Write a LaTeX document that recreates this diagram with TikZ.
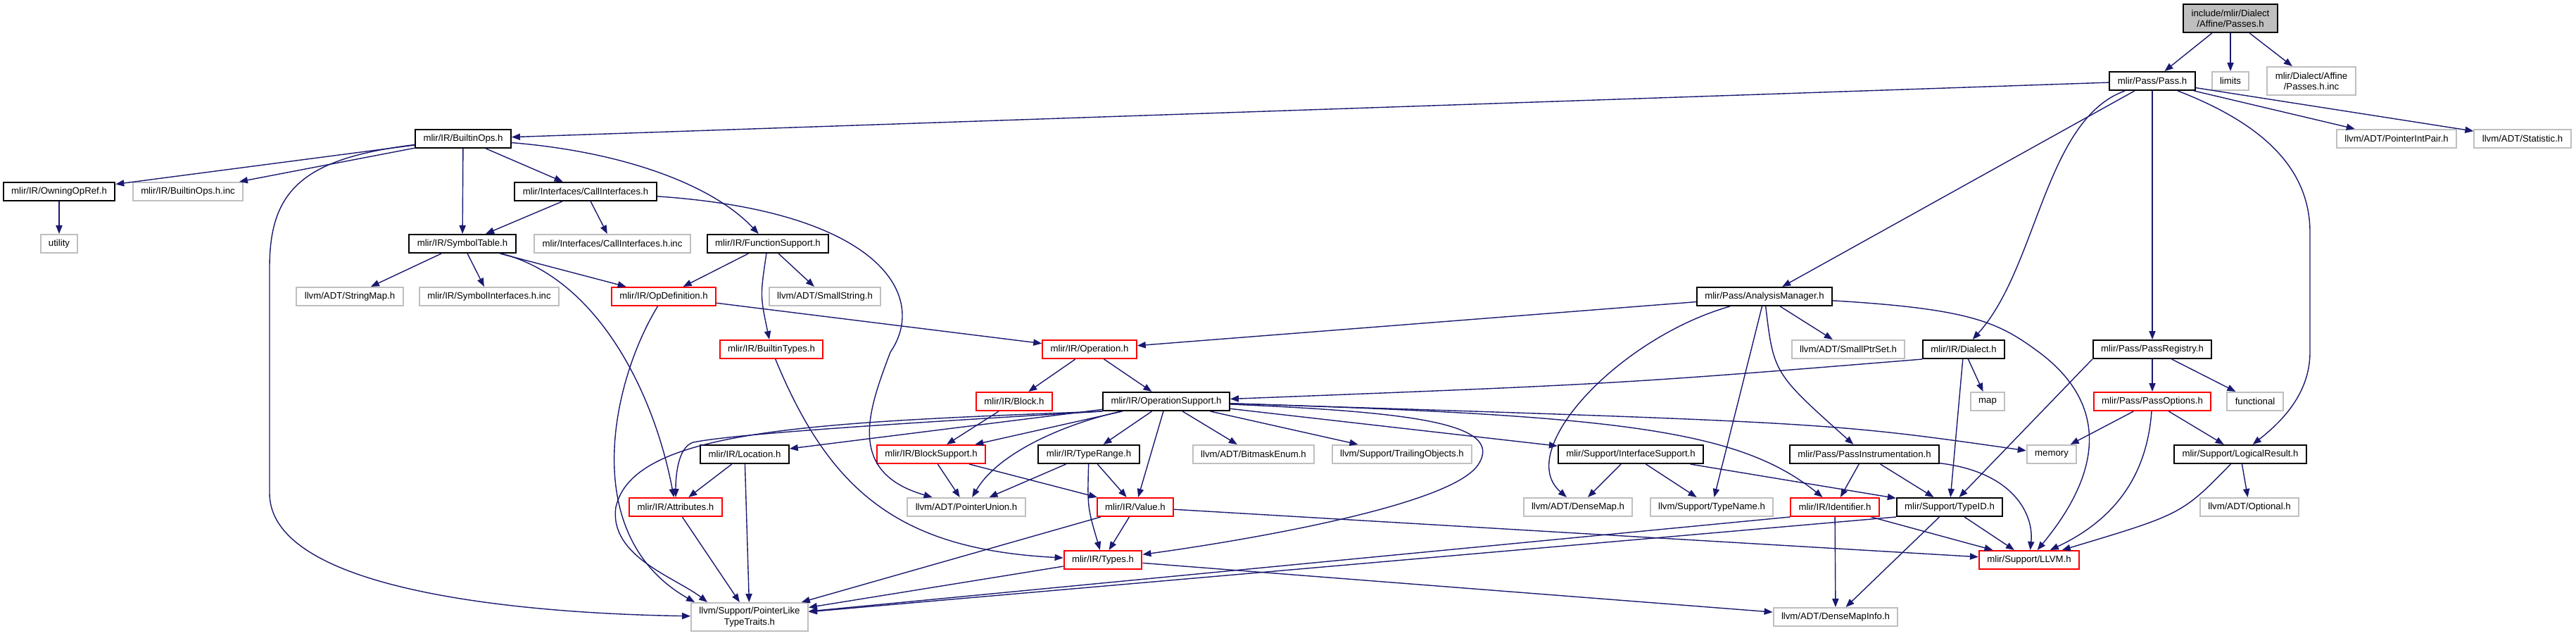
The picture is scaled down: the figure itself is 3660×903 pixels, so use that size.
\documentclass[tikz,border=0pt]{standalone}
\usepackage{fontspec}
\setmainfont{Liberation Sans}
\usepackage{tikz}
\usetikzlibrary{arrows.meta}
\definecolor{edgeblue}{HTML}{191970}
\definecolor{extgray}{HTML}{BFBFBF}
\definecolor{truncred}{HTML}{FF0000}
\tikzset{
    filebox/.style={
        rectangle,
        draw=black,
        fill=white,
        line width=1pt,
        align=center,
        inner xsep=5.7pt,
        inner ysep=1pt,
        minimum height=13pt,
        font=\fontsize{6.6}{7.6}\selectfont
    },
    extbox/.style={filebox, draw=extgray},
    truncbox/.style={filebox, draw=truncred},
    rootbox/.style={filebox, fill=extgray, minimum height=20pt},
    twoline/.style={minimum height=20pt},
    edge/.style={
        -{Triangle[length=6pt,width=4.6pt]},
        line width=0.7pt,
        draw=edgeblue
    }
}

\begin{document}
\begin{tikzpicture}[x=0.5pt, y=-0.5pt]
    \useasboundingbox (0,0) rectangle (3660,903);

    \node[rootbox] (root) at (3169,26) {include/mlir/Dialect\\/Affine/Passes.h};
    \node[filebox] (pass) at (3058,115) {mlir/Pass/Pass.h};
    \node[extbox] (limits) at (3169,115) {limits};
    \node[extbox, twoline] (passesinc) at (3284,115) {mlir/Dialect/Affine\\/Passes.h.inc};
    \node[extbox] (ptrintpair) at (3405,197) {llvm/ADT/PointerIntPair.h};
    \node[extbox] (statistic) at (3584,197) {llvm/ADT/Statistic.h};
    \node[filebox] (builtinops) at (658,197) {mlir/IR/BuiltinOps.h};
    \node[filebox] (owning) at (84,272) {mlir/IR/OwningOpRef.h};
    \node[extbox] (builtinopsinc) at (267,272) {mlir/IR/BuiltinOps.h.inc};
    \node[filebox] (callif) at (832,272) {mlir/Interfaces/CallInterfaces.h};
    \node[extbox] (utility) at (84,346) {utility};
    \node[filebox] (symtable) at (657,346) {mlir/IR/SymbolTable.h};
    \node[extbox] (callifinc) at (870,346) {mlir/Interfaces/CallInterfaces.h.inc};
    \node[filebox] (funcsupport) at (1091,346) {mlir/IR/FunctionSupport.h};
    \node[extbox] (stringmap) at (497,421) {llvm/ADT/StringMap.h};
    \node[extbox] (symifinc) at (695,421) {mlir/IR/SymbolInterfaces.h.inc};
    \node[truncbox] (opdef) at (943,421) {mlir/IR/OpDefinition.h};
    \node[extbox] (smallstring) at (1172,421) {llvm/ADT/SmallString.h};
    \node[filebox] (analysis) at (2507,421) {mlir/Pass/AnalysisManager.h};
    \node[truncbox] (builtintypes) at (1096,496) {mlir/IR/BuiltinTypes.h};
    \node[truncbox] (operation) at (1548,496) {mlir/IR/Operation.h};
    \node[extbox] (smallptrset) at (2626,496) {llvm/ADT/SmallPtrSet.h};
    \node[filebox] (dialect) at (2790,496) {mlir/IR/Dialect.h};
    \node[filebox] (passreg) at (3058,496) {mlir/Pass/PassRegistry.h};
    \node[truncbox] (block) at (1441,570) {mlir/IR/Block.h};
    \node[filebox] (opsupport) at (1657,570) {mlir/IR/OperationSupport.h};
    \node[extbox] (map) at (2824,570) {map};
    \node[truncbox] (passopts) at (3058,570) {mlir/Pass/PassOptions.h};
    \node[extbox] (functional) at (3204,570) {functional};
    \node[filebox] (location) at (1058,645) {mlir/IR/Location.h};
    \node[truncbox] (blocksupport) at (1323,645) {mlir/IR/BlockSupport.h};
    \node[filebox] (typerange) at (1547,645) {mlir/IR/TypeRange.h};
    \node[extbox] (bitmask) at (1781,645) {llvm/ADT/BitmaskEnum.h};
    \node[extbox] (trailing) at (1992,645) {llvm/Support/TrailingObjects.h};
    \node[filebox] (ifsupport) at (2317,645) {mlir/Support/InterfaceSupport.h};
    \node[filebox] (passinstr) at (2649,645) {mlir/Pass/PassInstrumentation.h};
    \node[extbox] (memory) at (2915,645) {memory};
    \node[filebox] (logical) at (3183,645) {mlir/Support/LogicalResult.h};
    \node[truncbox] (attributes) at (960,720) {mlir/IR/Attributes.h};
    \node[extbox] (ptrunion) at (1373,720) {llvm/ADT/PointerUnion.h};
    \node[truncbox] (value) at (1613,720) {mlir/IR/Value.h};
    \node[extbox] (densemap) at (2242,720) {llvm/ADT/DenseMap.h};
    \node[extbox] (typename) at (2432,720) {llvm/Support/TypeName.h};
    \node[truncbox] (identifier) at (2607,720) {mlir/IR/Identifier.h};
    \node[filebox] (typeid) at (2770,720) {mlir/Support/TypeID.h};
    \node[extbox] (optional) at (3196,720) {llvm/ADT/Optional.h};
    \node[truncbox] (types) at (1567,795) {mlir/IR/Types.h};
    \node[truncbox] (llvm) at (2883,795) {mlir/Support/LLVM.h};
    \node[extbox, twoline] (ptrlike) at (1065,876) {llvm/Support/PointerLike\\TypeTraits.h};
    \node[extbox] (densemapinfo) at (2608,876) {llvm/ADT/DenseMapInfo.h};

    \draw[edge] (root) -- (pass);
    \draw[edge] (root) -- (limits);
    \draw[edge] (root) -- (passesinc);
    \draw[edge] (pass) -- (builtinops);
    \draw[edge] (pass) -- (analysis);
    \draw[edge] (pass) .. controls (2905,170) and (2895,380) .. (dialect);
    \draw[edge] (pass) -- (passreg);
    \draw[edge] (pass) .. controls (3200,170) and (3282,230) .. (3282,330) -- (3282,500) .. controls (3282,560) and (3240,600) .. (logical);
    \draw[edge] (pass) -- (ptrintpair);
    \draw[edge] (pass) -- (statistic);
    \draw[edge] (builtinops) -- (owning);
    \draw[edge] (builtinops) -- (builtinopsinc);
    \draw[edge] (builtinops) -- (symtable);
    \draw[edge] (builtinops) -- (callif);
    \draw[edge] (builtinops) .. controls (880,215) and (1010,260) .. (funcsupport);
    \draw[edge] (builtinops) .. controls (430,225) and (383,270) .. (383,380) -- (383,700) .. controls (383,850) and (800,872) .. (ptrlike);
    \draw[edge] (owning) -- (utility);
    \draw[edge] (callif) -- (symtable);
    \draw[edge] (callif) -- (callifinc);
    \draw[edge] (callif) .. controls (1250,300) and (1320,420) .. (1265,500) .. controls (1235,580) and (1200,670) .. (ptrunion);
    \draw[edge] (symtable) -- (stringmap);
    \draw[edge] (symtable) -- (symifinc);
    \draw[edge] (symtable) -- (opdef);
    \draw[edge] (symtable) .. controls (850,395) and (930,560) .. (attributes);
    \draw[edge] (funcsupport) -- (opdef);
    \draw[edge] (funcsupport) .. controls (1080,420) .. (builtintypes);
    \draw[edge] (funcsupport) -- (smallstring);
    \draw[edge] (opdef) -- (operation);
    \draw[edge] (opdef) .. controls (870,540) and (820,760) .. ([xshift=3pt]ptrlike.north west);
    \draw[edge] (builtintypes) .. controls (1180,700) and (1280,780) .. (types);
    \draw[edge] (analysis) -- (operation);
    \draw[edge] (analysis) -- (smallptrset);
    \draw[edge] (analysis) .. controls (2300,480) and (2150,640) .. (densemap);
    \draw[edge] (analysis) -- (typename);
    \draw[edge] (analysis) .. controls (2520,530) .. (passinstr);
    \draw[edge] (analysis) .. controls (2790,438) and (2835,455) .. (2890,495) .. controls (2990,565) and (2995,660) .. (llvm);
    \draw[edge] (operation) -- (block);
    \draw[edge] (operation) -- (opsupport);
    \draw[edge] (block) -- (blocksupport);
    \draw[edge] (opsupport) -- (location);
    \draw[edge] (opsupport.south west) .. controls (1300,600) and (1050,615) .. (985,628) .. controls (962,635) and (960,680) .. (attributes);
    \draw[edge] (opsupport.south west) .. controls (1150,600) and (900,610) .. (875,720) .. controls (865,790) and (960,820) .. ([xshift=12pt]ptrlike.north west);
    \draw[edge] (opsupport) -- (blocksupport);
    \draw[edge] (opsupport) .. controls (1520,600) and (1420,640) .. (ptrunion);
    \draw[edge] (opsupport) -- (typerange);
    \draw[edge] (opsupport) -- (value);
    \draw[edge] (opsupport) -- (bitmask);
    \draw[edge] (opsupport) -- (trailing);
    \draw[edge] (opsupport) -- (ifsupport);
    \draw[edge] (opsupport) .. controls (2600,600) .. (memory);
    \draw[edge] (opsupport) .. controls (2000,585) and (2140,600) .. (2100,660) .. controls (2060,720) and (1750,770) .. (types);
    \draw[edge] (opsupport) .. controls (2300,590) and (2470,610) .. (identifier);
    \draw[edge] (dialect.south west) .. controls (2300,545) .. (opsupport);
    \draw[edge] (dialect) -- (typeid);
    \draw[edge] (dialect) -- (map);
    \draw[edge] (passreg) -- (passopts);
    \draw[edge] (passreg) -- (functional);
    \draw[edge] (passreg.south west) -- (typeid);
    \draw[edge] (passopts) -- (memory);
    \draw[edge] (passopts) .. controls (3050,680) and (3000,740) .. (llvm);
    \draw[edge] (passopts) -- (logical);
    \draw[edge] (logical) .. controls (3100,730) .. (llvm);
    \draw[edge] (logical) -- (optional);
    \draw[edge] (location) -- (attributes);
    \draw[edge] (location) -- (ptrlike);
    \draw[edge] (attributes) -- (ptrlike);
    \draw[edge] (blocksupport) -- (ptrunion);
    \draw[edge] (blocksupport) -- (value);
    \draw[edge] (typerange) -- (ptrunion);
    \draw[edge] (typerange) -- (value);
    \draw[edge] (typerange) .. controls (1545,720) .. (types);
    \draw[edge] (value) -- (types);
    \draw[edge] (value) -- (ptrlike);
    \draw[edge] (value) -- (llvm);
    \draw[edge] (types) -- (ptrlike);
    \draw[edge] (types) -- (densemapinfo);
    \draw[edge] (ifsupport) -- (densemap);
    \draw[edge] (ifsupport) -- (typename);
    \draw[edge] (ifsupport) -- (typeid);
    \draw[edge] (passinstr) -- (identifier);
    \draw[edge] (passinstr) -- (typeid);
    \draw[edge] (passinstr) .. controls (2860,670) and (2890,730) .. (llvm);
    \draw[edge] (identifier.south west) -- (ptrlike);
    \draw[edge] (identifier) -- (densemapinfo);
    \draw[edge] (identifier) -- (llvm);
    \draw[edge] (typeid) -- (densemapinfo);
    \draw[edge] (typeid) -- (llvm);
    \draw[edge] (typeid.south west) -- (ptrlike);
\end{tikzpicture}
\end{document}
